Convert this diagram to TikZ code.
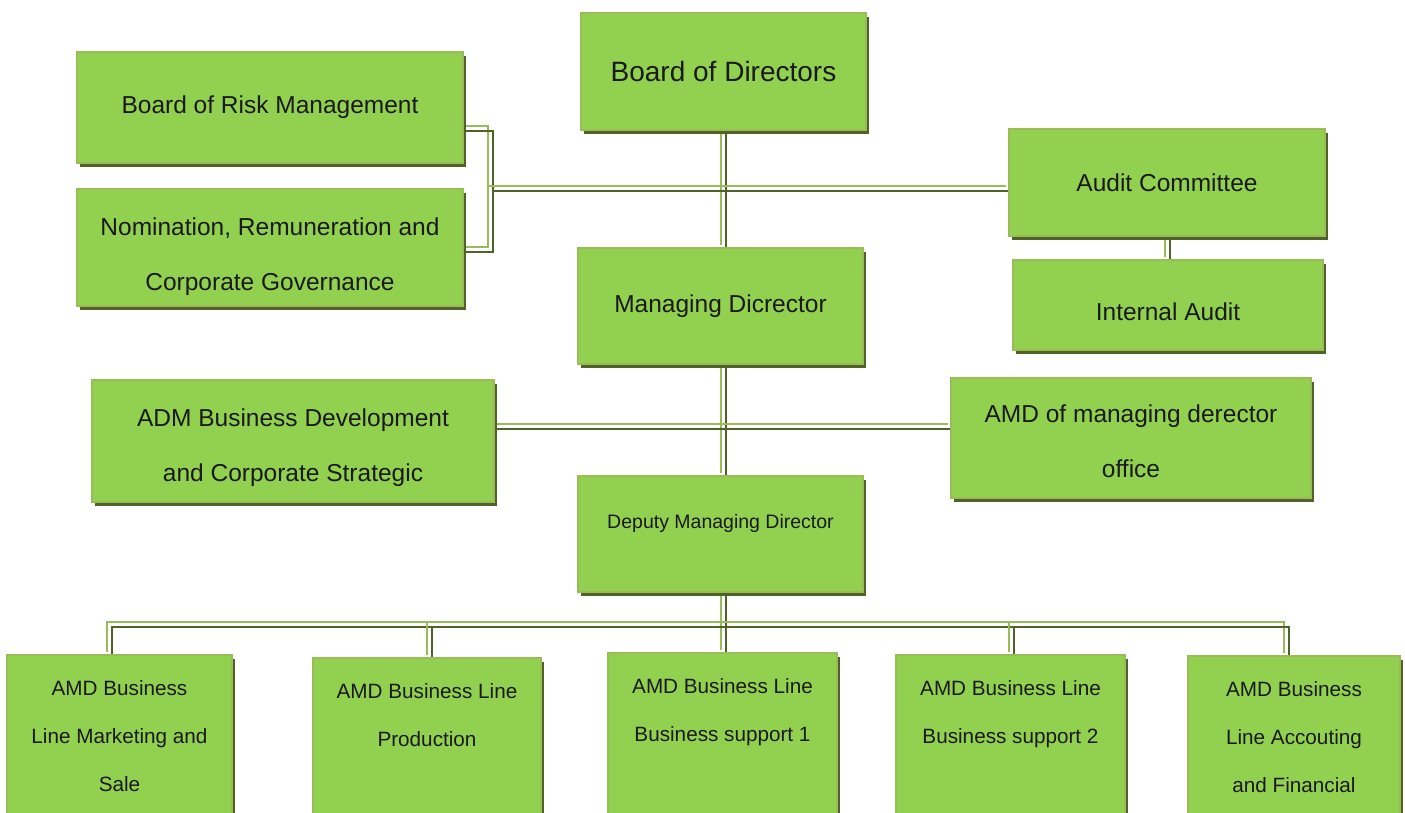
\documentclass[tikz,border=0pt]{standalone}
\usepackage{fontspec}
\setmainfont{Liberation Sans}
\usetikzlibrary{shadows,calc}
\definecolor{boxfill}{HTML}{92D050}
\definecolor{boxedge}{HTML}{9BBB59}
\definecolor{boxdark}{HTML}{4F6228}
\definecolor{lnlight}{HTML}{9BBB59}
\definecolor{txt}{HTML}{1A1A1A}
\pgfdeclarelayer{bg}\pgfsetlayers{bg,main}
\newcommand\dblline[1]{%
 \draw[lnlight,line width=2pt,transform canvas={shift={(-2.5pt,2.5pt)}}] #1;
 \draw[boxdark,line width=2pt,transform canvas={shift={(2.5pt,-2.5pt)}}] #1;}
\newcommand\topstrut[1]{\rule{0pt}{#1pt}}
\begin{document}
\begin{tikzpicture}[x=1pt,y=-1pt,
  box/.style={draw=boxedge, line width=1.5pt, fill=boxfill, inner sep=0pt, align=center, text=txt,
    general shadow={fill=boxdark, shadow xshift=3pt, shadow yshift=-4pt}},
  midtext/.style={font=\fontsize{24.5}{55}\selectfont},
  btext/.style={font=\fontsize{20.7}{48}\selectfont, align=center, inner sep=0pt, anchor=north, text=txt}]
\useasboundingbox (0,0) rectangle (1405,813);

\node[box, minimum width=285, minimum height=117, font=\fontsize{28}{34}\selectfont] (bod) at (723.5,71.5) {Board of Directors};
\node[box, midtext, minimum width=386, minimum height=111] (brm) at (270,107.5) {Board of Risk Management};
\node[box, midtext, minimum width=386, minimum height=117] (nrc) at (270,247.5) {\topstrut{36}Nomination, Remuneration and\\Corporate Governance};
\node[box, midtext, minimum width=316, minimum height=107] (ac) at (1167,182.5) {Audit Committee};
\node[box, midtext, minimum width=310, minimum height=90] (ia) at (1168,305) {\topstrut{32}Internal Audit};
\node[box, midtext, minimum width=285, minimum height=116] (md) at (720.5,306) {Managing Dicrector};
\node[box, midtext, minimum width=402, minimum height=122] (adm) at (293,441) {\topstrut{32}ADM Business Development\\and Corporate Strategic};
\node[box, midtext, minimum width=360, minimum height=120] (amdo) at (1131,438) {\topstrut{24}AMD of managing derector\\office};
\node[box, minimum width=285, minimum height=116, font=\fontsize{19.5}{24}\selectfont] (dmd) at (720.5,534) {Deputy Managing Director\rule[-26pt]{0pt}{1pt}};

\node[box, anchor=north, minimum width=225, minimum height=190] (b1) at (119.5,654) {};
\node[box, anchor=north, minimum width=228, minimum height=190] (b2) at (427,657) {};
\node[box, anchor=north, minimum width=229, minimum height=190] (b3) at (722.5,652) {};
\node[box, anchor=north, minimum width=229, minimum height=190] (b4) at (1010.5,654) {};
\node[box, anchor=north, minimum width=212, minimum height=190] (b5) at (1294,655) {};

\node[btext] (t1) at ($(b1.north)+(0,26)$) {AMD Business\\Line Marketing and\\Sale};
\node[btext] (t2) at ($(b2.north)+(0,26)$) {AMD Business Line\\Production};
\node[btext] (t3) at ($(b3.north)+(0,26)$) {AMD Business Line\\Business support 1};
\node[btext] (t4) at ($(b4.north)+(0,26)$) {AMD Business Line\\Business support 2};
\node[btext] (t5) at ($(b5.north)+(0,26)$) {AMD Business\\Line Accouting\\and Financial};

\coordinate (cx) at (723,0);
\coordinate (k1) at (490,129);
\coordinate (k2) at (490,249.5);
\coordinate (k3) at (490,188.5);
\coordinate (ix) at (1167.5,0);
\coordinate (hy) at (0,426);
\coordinate (v1) at (109.5,624.5);
\coordinate (v2) at (429.5,624.5);
\coordinate (v3) at (723,624.5);
\coordinate (v4) at (1011,624.5);
\coordinate (v5) at (1286,624.5);

\begin{pgfonlayer}{bg}
\dblline{(bod.south -| cx) -- (md.north -| cx)}
\dblline{(brm.east |- k1) -- (k1) -- (k2) -- (nrc.east |- k2)}
\dblline{(k3) -- (ac.west |- k3)}
\dblline{(ac.south -| ix) -- (ia.north -| ix)}
\dblline{(md.south -| cx) -- (dmd.north -| cx)}
\dblline{(adm.east |- hy) -- (amdo.west |- hy)}
\dblline{(dmd.south -| cx) -- (b3.north -| v3)}
\dblline{(b1.north -| v1) -- (v1) -- (v5) -- (b5.north -| v5)}
\dblline{(v2) -- (b2.north -| v2)}
\dblline{(v4) -- (b4.north -| v4)}
\end{pgfonlayer}
\end{tikzpicture}
\end{document}
